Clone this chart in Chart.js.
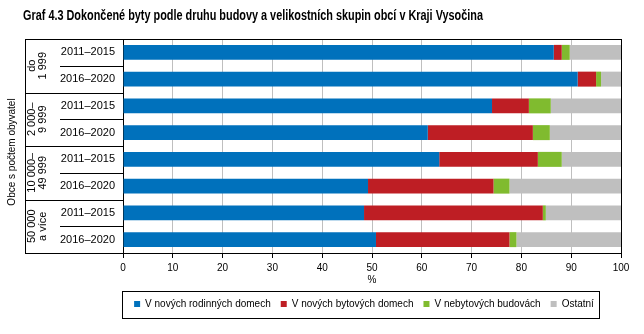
<!DOCTYPE html>
<html>
<head>
<meta charset="utf-8">
<script src="https://cdn.jsdelivr.net/npm/chart.js@4/dist/chart.umd.min.js"></script>
<style>
  html, body { margin: 0; padding: 0; background: #fff; }
  #wrap { width: 644px; height: 334px; position: relative; }
</style>
</head>
<body>
<div id="wrap"><canvas id="chart"></canvas></div>
<script>
const chartTitle = 'Graf 4.3 Dokončené byty podle druhu budovy a velikostních skupin obcí v Kraji Vysočina';
// období (kategorie osy y)
const periods = ['2011–2015', '2016–2020', '2011–2015', '2016–2020', '2011–2015', '2016–2020', '2011–2015', '2016–2020'];
// velikostní skupiny obcí (vždy dva řádky)
const groups = [['do', '1 999'], ['2 000–', '9 999'], ['10 000–', '49 999'], ['50 000', 'a více']];

const rodinne = [86.5, 91.3, 74.1, 61.2, 63.5, 49.2, 48.4, 50.8];
const bytove = [1.6, 3.7, 7.4, 21.1, 19.8, 25.2, 35.9, 26.8];
const nebytove = [1.6, 1.0, 4.4, 3.4, 4.8, 3.2, 0.6, 1.4];
const ostatni = [10.3, 4.0, 14.1, 14.3, 11.9, 22.4, 15.1, 21.0];

const seriesNames = ['V nových rodinných domech', 'V nových bytových domech', 'V nebytových budovách', 'Ostatní'];
const colors = ['#0071bc', '#be1e24', '#80bb2f', '#bfbfbf'];

const FONT = "'Liberation Sans', Arial, sans-serif";
Chart.defaults.font.family = FONT;
Chart.defaults.font.size = 11;
Chart.defaults.color = '#000';

// legendu posunout pod střed grafu (ne pod střed celé plochy)
const legendShift = {
  id: 'legendShift',
  afterLayout(chart) {
    const lg = chart.legend;
    const ca = chart.chartArea;
    const dx = (ca.left + ca.right) / 2 - 8 - (lg.left + lg.right) / 2;
    lg.left += dx;
    lg.right += dx;
    (lg.legendHitBoxes || []).forEach(h => { h.left += dx; });
  }
};

// nadpis, čáry tabulky vlevo, popisky skupin, rámeček grafu a legendy
const tablePlugin = {
  id: 'tableLines',
  afterDraw(chart) {
    const ctx = chart.ctx;
    const y = chart.scales.y;
    const ca = chart.chartArea;
    const step = y.getPixelForValue(1) - y.getPixelForValue(0);
    const xGroup = 25, xPeriod = 60;

    ctx.save();
    // nadpis (zúžené písmo)
    ctx.font = 'bold 14px ' + FONT;
    ctx.fillStyle = '#000';
    ctx.textBaseline = 'alphabetic';
    ctx.textAlign = 'left';
    const tw = ctx.measureText(chartTitle).width;
    ctx.save();
    ctx.translate(23, 20);
    ctx.scale(460 / tw, 1);
    ctx.fillText(chartTitle, 0, 0);
    ctx.restore();

    ctx.strokeStyle = '#000';
    ctx.lineWidth = 1;
    ctx.beginPath();
    // horní a pravý okraj
    ctx.moveTo(xGroup, Math.round(ca.top) + 0.5);
    ctx.lineTo(ca.right, Math.round(ca.top) + 0.5);
    ctx.moveTo(Math.round(ca.right) + 0.5, ca.top);
    ctx.lineTo(Math.round(ca.right) + 0.5, ca.bottom);
    // svislá čára vlevo
    ctx.moveTo(xGroup + 0.5, ca.top);
    ctx.lineTo(xGroup + 0.5, ca.bottom);
    // vodorovné čáry mezi řádky
    for (let i = 0; i < periods.length; i++) {
      const yy = Math.round(y.getPixelForValue(i) + step / 2) + 0.5;
      const startX = (i % 2 === 1) ? xGroup : xPeriod;
      ctx.moveTo(startX, yy);
      ctx.lineTo(ca.left, yy);
    }
    ctx.stroke();

    // popisky skupin
    ctx.font = '11px ' + FONT;
    ctx.textAlign = 'center';
    ctx.textBaseline = 'middle';
    groups.forEach((g, gi) => {
      const cy = (y.getPixelForValue(gi * 2) + y.getPixelForValue(gi * 2 + 1)) / 2;
      ctx.save();
      ctx.translate(43, cy);
      ctx.rotate(-Math.PI / 2);
      ctx.fillText(g[0], 0, -11);
      ctx.fillText(g[1], 0, 0);
      ctx.restore();
    });

    // název osy
    ctx.save();
    ctx.translate(12, (ca.top + ca.bottom) / 2 + 6);
    ctx.rotate(-Math.PI / 2);
    ctx.font = '10px ' + FONT;
    ctx.fillText('Obce s počtem obyvatel', 0, 0);
    ctx.restore();

    // rámeček legendy
    const hb = chart.legend.legendHitBoxes;
    if (hb && hb.length) {
      const first = hb[0], last = hb[hb.length - 1];
      const l = Math.round(first.left - 12) + 0.5;
      const r = Math.round(last.left + last.width + 5) + 0.5;
      const t = Math.round(first.top + first.height / 2 - 13) + 0.5;
      ctx.strokeRect(l, t, r - l, 27);
    }
    ctx.restore();
  }
};

const datasets = [rodinne, bytove, nebytove, ostatni].map((d, i) => ({
  label: seriesNames[i],
  data: d,
  backgroundColor: colors[i],
  borderWidth: 0,
  barPercentage: 0.56,
  categoryPercentage: 1
}));

new Chart(document.getElementById('chart'), {
  type: 'bar',
  data: { labels: periods, datasets: datasets },
  options: {
    indexAxis: 'y',
    responsive: true,
    maintainAspectRatio: false,
    animation: false,
    layout: { padding: { left: 22, right: 23, top: 39, bottom: 15 } },
    scales: {
      x: {
        stacked: true,
        min: 0,
        max: 100,
        ticks: { stepSize: 10, padding: 4, color: '#000', font: { size: 10 } },
        grid: { color: '#bfbfbf', tickColor: '#000', tickLength: 5 },
        border: { color: '#000' },
        title: { display: true, text: '%', padding: { top: -4, bottom: 3 }, font: { size: 10 } }
      },
      y: {
        stacked: true,
        ticks: { padding: 8, color: '#000' },
        grid: { display: false, drawTicks: false },
        border: { color: '#000' },
        afterFit(scale) { scale.width = 101; }
      }
    },
    plugins: {
      legend: {
        position: 'bottom',
        labels: { boxWidth: 6, boxHeight: 6, padding: 10, font: { size: 10 }, color: '#000' }
      },
      tooltip: { enabled: false }
    }
  },
  plugins: [legendShift, tablePlugin]
});
</script>
</body>
</html>
